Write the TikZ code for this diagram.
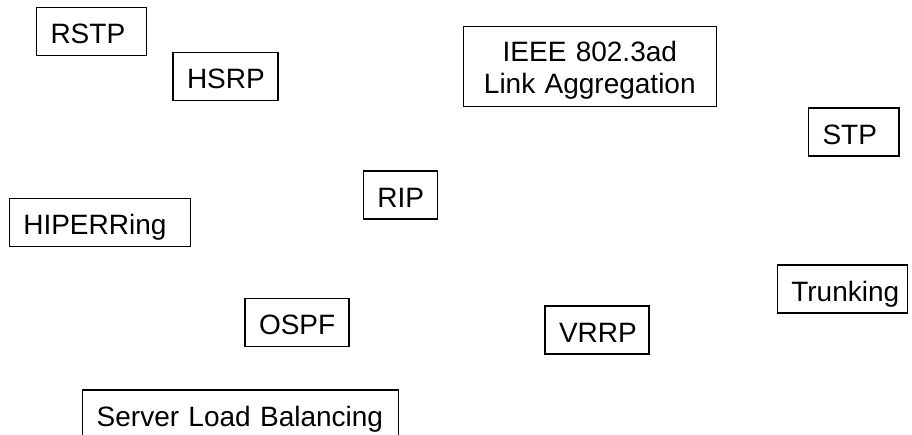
\documentclass[tikz,border=0pt]{standalone}
\usepackage{fontspec}
\setmainfont{Liberation Sans}
\begin{document}
\begin{tikzpicture}[x=1pt,y=-1pt,
  boxed/.style={draw=black, line width=1.2pt, anchor=north west,
    inner sep=0pt, outer sep=0pt, minimum height=48pt,
    font=\fontsize{28}{32}\selectfont},
  % single-line label: left aligned with a fixed inset
  tag/.style={boxed, text width=#1, align=left,
    text height=26pt, text depth=1.4pt,
    execute at begin node=\hspace*{14pt}},
]
\useasboundingbox (0,0) rectangle (912,435);

\node[tag=110pt]   (rstp)      at (36.5,7.5)   {RSTP};
\node[tag=105pt]   (hsrp)      at (173,52.7)   {HSRP};
\node[boxed, text width=253pt, align=center, minimum height=80pt,
      text height=20pt, text depth=30pt]
                   (ieee)      at (463.3,26.7) {IEEE 802.3ad\\Link Aggregation};
\node[tag=90.5pt]  (stp)       at (808.5,108)  {STP};
\node[tag=74pt]    (rip)       at (363.3,171)  {RIP};
\node[tag=181.4pt] (hiperring) at (9.3,198.3)  {HIPERRing};
\node[tag=130.4pt] (trunking)  at (777.3,265)  {Trunking};
\node[tag=104pt]   (ospf)      at (245,298.3)  {OSPF};
\node[tag=104pt]   (vrrp)      at (545,306)    {VRRP};
\node[tag=315.6pt] (slb)       at (82.7,390)   {Server Load Balancing};
\end{tikzpicture}
\end{document}
